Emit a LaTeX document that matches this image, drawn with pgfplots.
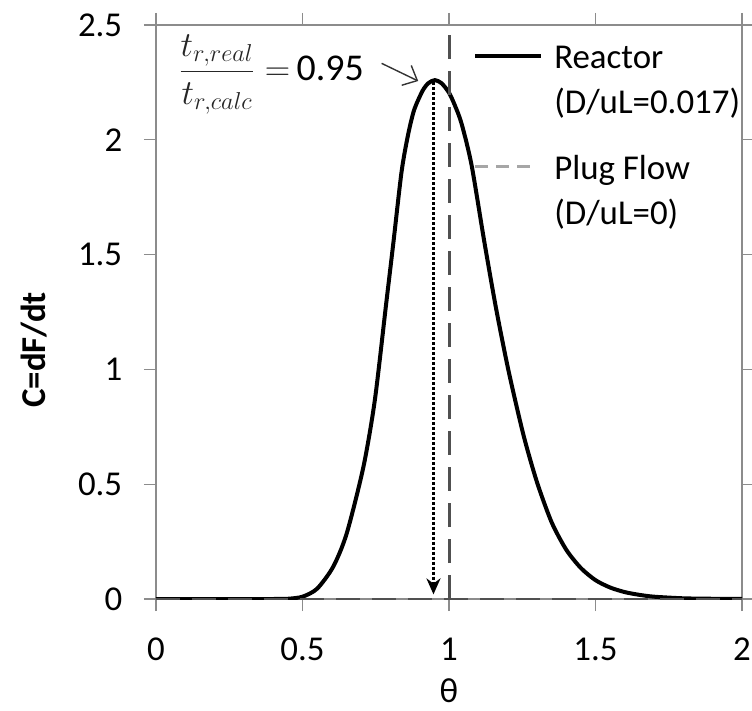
\documentclass[border=0pt]{standalone}
\usepackage{pgfplots}
\pgfplotsset{compat=1.18}
\usepackage{fontspec}
\setmainfont{Carlito}
\usetikzlibrary{arrows.meta}
\definecolor{axgray}{HTML}{8C8C8C}
\definecolor{pfdark}{HTML}{505050}
\definecolor{pflight}{HTML}{A6A6A6}
\begin{document}
\fontsize{35}{45}\selectfont
\begin{tikzpicture}
\useasboundingbox (-156bp,-112bp) rectangle (596bp,599bp);
\begin{axis}[
  scale only axis,
  width=586bp, height=574bp,
  xmin=0, xmax=2, ymin=0, ymax=2.5,
  xtick={0,0.5,1,1.5,2},
  ytick={0,0.5,1,1.5,2,2.5},
  xticklabels={0,0.5,1,1.5,2},
  yticklabels={0,0.5,1,1.5,2,2.5},
  tick align=outside,
  major tick length=12bp,
  tick style={axgray, line width=1.2bp},
  axis line style={axgray, line width=1.2bp},
  ticklabel style={font=\fontsize{35}{42}\selectfont, text=black},
  yticklabel style={xshift=-10bp},
  xticklabel style={yshift=-15bp},
  /pgf/number format/assume math mode=true,
  xlabel={θ},
  ylabel={\bfseries C=dF/dt},
  label style={font=\fontsize{35}{42}\selectfont},
  xlabel style={yshift=5bp},
  ylabel style={at={(ticklabel cs:0.434)}, yshift=8bp},
  legend style={draw=none, fill=none, at={(axis cs:1.072,2.465)}, anchor=north west,
    font=\fontsize{35}{45}\selectfont, row sep=70bp, cells={anchor=west}},
  legend cell align=left,
]
\addplot[black, line width=4bp, smooth, tension=0.45,
  legend image code/.code={\draw[black, line width=4bp] (0bp,0bp) -- (66bp,0bp);}] coordinates {
(0,0) (0.40,0) (0.45,0.001) (0.50,0.010) (0.55,0.045) (0.605,0.141)
(0.651,0.286) (0.708,0.576) (0.747,0.867) (0.785,1.28) (0.81,1.55)
(0.838,1.86) (0.86,2.02) (0.881,2.13) (0.91,2.214) (0.93,2.247)
(0.952,2.26) (0.975,2.246) (1.0,2.205) (1.02,2.15) (1.043,2.07)
(1.077,1.89) (1.12,1.56) (1.16,1.27) (1.203,0.995) (1.254,0.715)
(1.30,0.51) (1.35,0.335) (1.40,0.215) (1.45,0.135) (1.50,0.082)
(1.55,0.050) (1.60,0.030) (1.65,0.018) (1.70,0.010) (1.80,0.003)
(1.90,0.001) (2.0,0)
};
\addlegendentry{\begin{tabular}[t]{@{\hspace{9bp}}l@{}}Reactor\\(D/uL=0.017)\end{tabular}}
\addplot[pfdark, line width=3bp, dash pattern=on 24bp off 12bp,
  legend image code/.code={\draw[pflight, line width=3bp, dash pattern=on 13bp off 8bp] (0bp,0bp) -- (60bp,0bp);}]
  coordinates {(1,0) (1,2.5)};
\addlegendentry{\begin{tabular}[t]{@{\hspace{9bp}}l@{}}Plug Flow\\(D/uL=0)\end{tabular}}
\addplot[pfdark, line width=3bp, dash pattern=on 24bp off 12bp, forget plot]
  coordinates {(0,0) (2,0)};
\addplot[black, line width=3bp, dotted, -{Stealth[length=16bp,width=14bp]}, forget plot]
  coordinates {(0.947,2.25) (0.947,0.02)};
\addplot[black!80, line width=1.4bp, -{Straight Barb[length=12bp,width=22bp]}, forget plot]
  coordinates {(0.770,2.333) (0.895,2.256)};
\node[anchor=base west, inner sep=0pt, font=\fontsize{38}{46}\selectfont, text=black!85] at (axis cs:0.078,2.26)
  {\scalebox{1.42}{\fontsize{24}{29}\selectfont$\displaystyle\frac{t_{r,real}}{t_{r,calc}}=$}\,{\color{black}0.95}};
\end{axis}
\end{tikzpicture}
\end{document}
